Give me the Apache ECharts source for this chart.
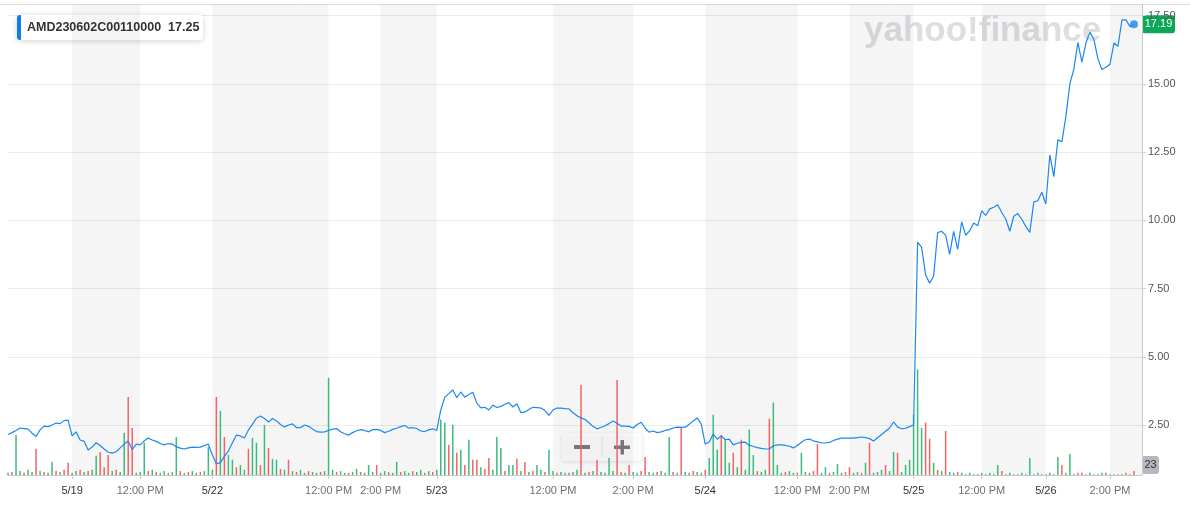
<!DOCTYPE html>
<html>
<head>
<meta charset="utf-8">
<script src="https://cdn.jsdelivr.net/npm/echarts@6/dist/echarts.min.js"></script>
<style>
html, body { margin: 0; padding: 0; background: #fff; }
#chart { width: 1190px; height: 519px; }
</style>
</head>
<body>
<div id="chart"></div>
<script>
const symbolName = 'AMD230602C00110000'
const quoteText = '17.25'
const lastVolumeText = '23'

// one slot per trade bucket, labels only on a few of them
const slotCount = 284
const tickIdx = [16, 33, 51, 80, 93, 107, 136, 156, 174, 197, 210, 226, 243, 259, 275]
const tickText = ['5/19', '12:00 PM', '5/22', '12:00 PM', '2:00 PM', '5/23', '12:00 PM', '2:00 PM',
  '5/24', '12:00 PM', '2:00 PM', '5/25', '12:00 PM', '5/26', '2:00 PM']
const priceTicks = [2.5, 5, 7.5, 10, 12.5, 15, 17.5]
const shadedRanges = [[16, 33], [51, 80], [93, 107], [136, 156], [174, 197], [210, 226], [243, 259], [275, 283]]

const price = [
  2.15, 2.22, 2.30, 2.39, 2.37, 2.35, 2.20, 2.08, 2.32, 2.46,
  2.44, 2.50, 2.57, 2.55, 2.66, 2.68, 2.10, 2.25, 1.95, 1.90,
  1.58, 1.69, 1.85, 1.75, 1.62, 1.50, 1.47, 1.52, 1.66, 1.80,
  1.91, 1.60, 1.80, 1.77, 1.92, 2.02, 1.95, 1.90, 1.82, 1.77,
  1.82, 1.80, 1.70, 1.65, 1.62, 1.66, 1.69, 1.68, 1.69, 1.75,
  1.80, 1.40, 1.08, 1.12, 1.35, 1.55, 1.85, 2.13, 2.10, 2.02,
  2.32, 2.52, 2.75, 2.83, 2.74, 2.61, 2.74, 2.65, 2.52, 2.43,
  2.50, 2.54, 2.40, 2.40, 2.50, 2.45, 2.35, 2.26, 2.24, 2.25,
  2.30, 2.35, 2.37, 2.25, 2.18, 2.13, 2.22, 2.29, 2.33, 2.30,
  2.25, 2.33, 2.34, 2.30, 2.22, 2.27, 2.34, 2.38, 2.44, 2.48,
  2.39, 2.40, 2.37, 2.28, 2.26, 2.32, 2.36, 2.30, 3.05, 3.52,
  3.65, 3.78, 3.50, 3.71, 3.52, 3.62, 3.70, 3.30, 3.13, 3.15,
  3.05, 3.23, 3.14, 3.18, 3.26, 3.32, 3.16, 3.28, 2.95, 2.98,
  3.07, 3.15, 3.14, 3.12, 3.03, 2.85, 3.05, 3.12, 3.12, 3.10,
  3.09, 2.95, 2.84, 2.76, 2.70, 2.58, 2.45, 2.36, 2.41, 2.47,
  2.55, 2.65, 2.56, 2.46, 2.46, 2.45, 2.39, 2.52, 2.60, 2.38,
  2.24, 2.28, 2.22, 2.25, 2.30, 2.33, 2.39, 2.42, 2.41, 2.42,
  2.53, 2.65, 2.76, 2.54, 1.80, 1.88, 2.17, 1.98, 2.10, 1.96,
  1.98, 1.77, 1.83, 1.86, 1.87, 1.76, 1.71, 1.67, 1.64, 1.62,
  1.62, 1.74, 1.77, 1.77, 1.75, 1.72, 1.66, 1.75, 1.87, 1.96,
  1.98, 1.92, 1.88, 1.84, 1.84, 1.86, 1.93, 1.98, 2.02, 2.02,
  2.02, 2.02, 2.04, 2.06, 2.04, 2.00, 1.91, 2.03, 2.15, 2.27,
  2.39, 2.61, 2.43, 2.36, 2.38, 2.44, 2.50, 9.20, 9.01, 8.00,
  7.70, 7.95, 9.55, 9.60, 9.45, 8.75, 9.60, 8.94, 9.95, 9.45,
  9.62, 9.90, 9.80, 10.35, 10.18, 10.42, 10.48, 10.57, 10.29, 10.05,
  9.60, 10.15, 10.25, 10.04, 9.78, 9.56, 10.68, 10.72, 11.03, 10.60,
  12.40, 11.60, 12.95, 12.88, 13.80, 15.00, 15.55, 16.52, 15.80, 16.50,
  16.90, 16.63, 15.92, 15.53, 15.61, 15.72, 16.50, 16.38, 17.35, 17.35,
  17.10, 17.19
]

// contracts per slot, negative = down tick (red)
const volume = [
  5, -7, 92, 9, -5, 12, 7, -60, 9, -7,
  5, 30, -9, 7, -12, -28, 5, 9, -12, 7,
  -9, 12, 44, -53, -18, -46, 9, -12, 7, 97,
  -179, -108, 5, 7, 74, -9, 12, -7, 5, 9,
  -5, 7, 87, -9, 5, -7, 9, 5, -7, 9,
  64, 12, -179, 147, -87, 46, 35, -18, 23, 12,
  -60, 85, 74, -23, 115, -62, 37, 35, -14, 12,
  -35, 9, -7, 12, 5, -9, 7, 5, -7, 9,
  223, 12, -7, 9, 5, -5, 7, 14, -7, 5,
  23, 7, -23, 5, 9, -7, 5, 30, -7, 9,
  5, -9, 7, 12, -5, 9, -7, 12, 127, 120,
  -69, 115, -51, 58, -23, 81, -35, -35, 18, -14,
  -39, 12, 87, 62, -9, 23, 23, -37, 9, -30,
  7, -9, 23, 12, -7, 58, 9, -5, 7, 5,
  -5, 7, 12, -207, 5, -7, 9, -35, 7, 5,
  39, 9, -218, -7, 5, -23, 7, 5, -9, -41,
  7, 5, -7, 9, 5, 87, -7, 5, -108, 7,
  5, -9, 7, 5, -12, 39, 138, 58, -92, 81,
  28, -51, 18, -81, 12, 104, 46, -9, 7, 12,
  -129, 166, 23, 5, -7, 9, 5, -5, 51, 7,
  5, -9, -71, 5, 18, -5, 7, 25, 5, -7,
  -18, 5, 7, -5, 28, -74, 5, 7, 12, -23,
  9, 53, -51, 7, 23, 35, 138, 242, 108, -120,
  -83, 28, -12, 9, -101, 7, 5, -7, 5, 2,
  5, 2, -2, 5, 2, 5, 2, 23, -9, 2,
  5, 2, -2, 5, 2, 39, 2, 5, -2, 2,
  5, 2, 41, -23, 5, 48, 2, -5, -5, 2,
  5, 2, -2, 5, -5, 2, 2, -2, 2, -5,
  2, -9
]

const LINE_BLUE = '#1b87f3'
const UP_GREEN = '#3cba7c'
const DOWN_RED = '#f56262'
const FONT = '"Liberation Sans", Arial, sans-serif'

const slots = Array.from({ length: slotCount }, (_, i) => i)
const lastIdx = price.length - 1

const chart = echarts.init(document.getElementById('chart'))

chart.setOption({
  animation: false,
  textStyle: { fontFamily: FONT },
  grid: { left: 8, right: 48, top: 4, bottom: 44 },
  xAxis: {
    type: 'category',
    data: slots,
    boundaryGap: false,
    axisLine: { lineStyle: { color: '#c9c9c9' } },
    axisTick: {
      length: 4,
      interval: idx => tickIdx.includes(idx),
      lineStyle: { color: '#c9c9c9' }
    },
    axisLabel: {
      interval: idx => tickIdx.includes(idx),
      margin: 10,
      formatter(value) {
        const t = tickText[tickIdx.indexOf(Number(value))]
        if (!t) return ''
        return t.includes('/') ? `{d|${t}}` : `{t|${t}}`
      },
      rich: {
        d: { fontSize: 11, color: '#333', fontFamily: FONT },
        t: { fontSize: 11, color: '#6f6f6f', fontFamily: FONT }
      }
    },
    splitLine: { show: false }
  },
  yAxis: [
    {
      type: 'value',
      position: 'right',
      min: 0.667,
      max: 17.93,
      axisLine: { show: true, lineStyle: { color: '#c9c9c9' } },
      axisTick: { show: true, length: 4, customValues: priceTicks, lineStyle: { color: '#c9c9c9' } },
      axisLabel: {
        customValues: priceTicks,
        margin: 6,
        fontSize: 11,
        color: '#555',
        formatter: v => v.toFixed(2)
      },
      splitLine: { show: true, lineStyle: { color: '#ebebeb' } }
    },
    {
      type: 'value',
      min: 0,
      max: 1080,
      show: false,
      splitLine: { show: false }
    }
  ],
  series: [
    {
      name: 'sessions',
      type: 'line',
      data: [],
      silent: true,
      z: 1,
      markArea: {
        silent: true,
        itemStyle: { color: 'rgba(0,0,0,0.038)' },
        data: shadedRanges.map(([a, b]) => [{ xAxis: a }, { xAxis: b }])
      }
    },
    {
      name: 'volume',
      type: 'bar',
      yAxisIndex: 1,
      barWidth: 1.5,
      z: 3,
      data: volume.map(v => ({
        value: Math.abs(v),
        itemStyle: { color: v < 0 ? DOWN_RED : UP_GREEN }
      }))
    },
    {
      name: symbolName,
      type: 'line',
      data: price,
      showSymbol: false,
      z: 4,
      lineStyle: { color: LINE_BLUE, width: 1.2 },
      itemStyle: { color: LINE_BLUE }
    },
    {
      name: 'last',
      type: 'scatter',
      data: [[lastIdx, price[lastIdx]]],
      symbolSize: 8,
      z: 5,
      itemStyle: { color: LINE_BLUE }
    }
  ]
})

// boxes pinned to the axis values
const lastY = chart.convertToPixel({ yAxisIndex: 0 }, price[lastIdx])
const volY = chart.convertToPixel({ yAxisIndex: 1 }, Number(lastVolumeText))

chart.setOption({
  graphic: [
    {
      type: 'line', z: 0, silent: true,
      shape: { x1: 0, y1: 4.5, x2: 1190, y2: 4.5 },
      style: { stroke: '#dedede', lineWidth: 1 }
    },
    {
      type: 'text', z: 0, silent: true,
      style: {
        text: 'yahoo!finance', x: 864, y: 31,
        textVerticalAlign: 'middle',
        font: 'bold 35px "Liberation Sans", Arial, sans-serif',
        fill: '#dcdee2'
      }
    },
    {
      type: 'group', z: 10,
      children: [
        {
          type: 'rect',
          shape: { x: 17, y: 15, width: 186, height: 25, r: 3 },
          style: { fill: '#fff', shadowBlur: 6, shadowColor: 'rgba(0,0,0,0.18)', shadowOffsetY: 1 }
        },
        {
          type: 'rect',
          shape: { x: 17, y: 15, width: 4, height: 25, r: [3, 0, 0, 3] },
          style: { fill: '#0f7cf2' }
        },
        {
          type: 'text',
          style: {
            text: symbolName + '  ' + quoteText, x: 27, y: 28,
            textVerticalAlign: 'middle',
            font: 'bold 12.5px "Liberation Sans", Arial, sans-serif',
            fill: '#333'
          }
        }
      ]
    },
    {
      type: 'group', z: 1,
      children: [
        {
          type: 'rect',
          shape: { x: 562, y: 433, width: 80, height: 28, r: 4 },
          style: { fill: 'rgba(255,255,255,0.85)', shadowBlur: 5, shadowColor: 'rgba(0,0,0,0.15)', shadowOffsetY: 1 }
        },
        { type: 'line', shape: { x1: 602, y1: 437, x2: 602, y2: 457 }, style: { stroke: '#e2e2e2' } },
        { type: 'rect', shape: { x: 574, y: 445, width: 16, height: 4 }, style: { fill: '#7b7b7b' } },
        { type: 'rect', shape: { x: 614, y: 445.5, width: 16, height: 3.5 }, style: { fill: '#7b7b7b' } },
        { type: 'rect', shape: { x: 620.5, y: 440, width: 3.5, height: 14.5 }, style: { fill: '#7b7b7b' } }
      ]
    },
    {
      type: 'group', z: 10,
      children: [
        {
          type: 'rect',
          shape: { x: 1142, y: lastY - 9, width: 33, height: 18, r: 3 },
          style: { fill: '#0ca857' }
        },
        {
          type: 'text',
          style: {
            text: price[lastIdx].toFixed(2), x: 1158.5, y: lastY,
            textAlign: 'center', textVerticalAlign: 'middle',
            font: '11px "Liberation Sans", Arial, sans-serif', fill: '#fff'
          }
        }
      ]
    },
    {
      type: 'group', z: 10,
      children: [
        {
          type: 'rect',
          shape: { x: 1142, y: volY - 9, width: 17, height: 18, r: 3 },
          style: { fill: '#b5b8be' }
        },
        {
          type: 'text',
          style: {
            text: lastVolumeText, x: 1150.5, y: volY,
            textAlign: 'center', textVerticalAlign: 'middle',
            font: '11px "Liberation Sans", Arial, sans-serif', fill: '#2f3339'
          }
        }
      ]
    }
  ]
})
</script>
</body>
</html>
